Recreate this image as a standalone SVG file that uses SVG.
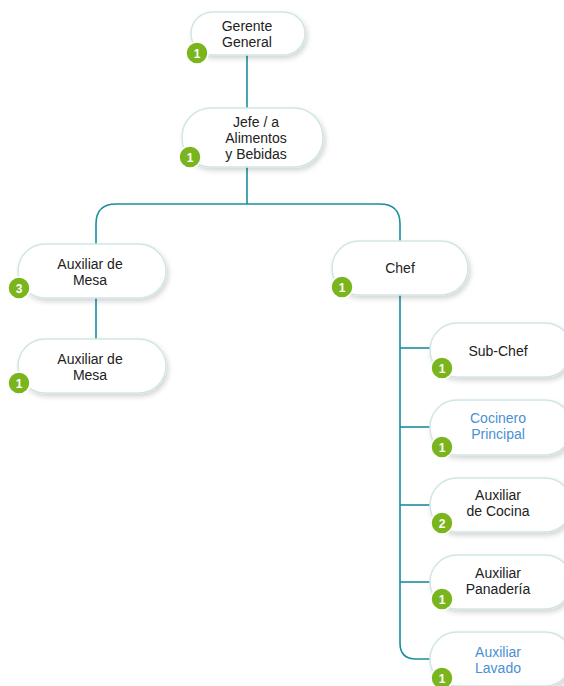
<svg xmlns="http://www.w3.org/2000/svg" width="564" height="686" viewBox="0 0 564 686">
  <defs>
    <filter id="shadow" x="-20%" y="-30%" width="140%" height="170%">
      <feDropShadow dx="2" dy="3" stdDeviation="2.5" flood-color="#000" flood-opacity="0.16"/>
    </filter>
    <style>
      .box { fill: #ffffff; stroke: #cfe7e3; stroke-width: 1.5; filter: url(#shadow); }
      .lbl { font-family: "Liberation Sans", Arial, sans-serif; font-size: 14px; fill: #222; text-anchor: middle; }
      .blue { fill: #4a90d2; }
      .badge { fill: #7ab51d; stroke: #ffffff; stroke-width: 1.5; }
      .num { font-family: "Liberation Sans", Arial, sans-serif; font-size: 12px; font-weight: bold; fill: #ffffff; text-anchor: middle; }
      .wire { fill: none; stroke: #1b8d9e; stroke-width: 1.6; }
    </style>
  </defs>
  <rect width="564" height="686" fill="#ffffff"/>

  <!-- connectors -->
  <g id="connectors" class="wire">
    <path d="M247 55 V108"/>
    <path d="M247 167 V204"/>
    <path d="M116 204 H380 Q400 204 400 224 V241"/>
    <path d="M116 204 Q96 204 96 224 V244"/>
    <path d="M96 298 V339"/>
    <path d="M400 295 V643 Q400 659 416 659 H430"/>
    <path d="M400 348 H430"/>
    <path d="M400 427 H430"/>
    <path d="M400 505 H430"/>
    <path d="M400 582 H430"/>
  </g>

  <g id="gerente">
    <rect class="box" x="191" y="12" width="114" height="43" rx="21.5"/>
    <text class="lbl"><tspan x="247" y="31">Gerente</tspan><tspan x="247" y="47">General</tspan></text>
    <circle class="badge" cx="197" cy="53" r="11"/>
    <text class="num" x="197" y="57.5">1</text>
  </g>

  <g id="jefe">
    <rect class="box" x="182" y="108" width="141" height="59" rx="29"/>
    <text class="lbl"><tspan x="256" y="127">Jefe / a</tspan><tspan x="256" y="143">Alimentos</tspan><tspan x="256" y="159">y Bebidas</tspan></text>
    <circle class="badge" cx="190" cy="157" r="11"/>
    <text class="num" x="190" y="161.5">1</text>
  </g>

  <g id="auxiliar-mesa-1">
    <rect class="box" x="18" y="244" width="148" height="54" rx="27"/>
    <text class="lbl"><tspan x="90" y="269">Auxiliar de</tspan><tspan x="90" y="285">Mesa</tspan></text>
    <circle class="badge" cx="19" cy="288" r="11"/>
    <text class="num" x="19" y="292.5">3</text>
  </g>

  <g id="auxiliar-mesa-2">
    <rect class="box" x="18" y="339" width="148" height="54" rx="27"/>
    <text class="lbl"><tspan x="90" y="364">Auxiliar de</tspan><tspan x="90" y="380">Mesa</tspan></text>
    <circle class="badge" cx="19" cy="383" r="11"/>
    <text class="num" x="19" y="387.5">1</text>
  </g>

  <g id="chef">
    <rect class="box" x="332" y="241" width="136" height="54" rx="27"/>
    <text class="lbl" x="400" y="273">Chef</text>
    <circle class="badge" cx="342" cy="287" r="11"/>
    <text class="num" x="342" y="291.5">1</text>
  </g>

  <g id="sub-chef">
    <rect class="box" x="430" y="323" width="142" height="54" rx="27"/>
    <text class="lbl" x="498" y="356">Sub-Chef</text>
    <circle class="badge" cx="442" cy="368" r="11"/>
    <text class="num" x="442" y="372.5">1</text>
  </g>

  <g id="cocinero-principal">
    <rect class="box" x="430" y="400" width="142" height="55" rx="27"/>
    <text class="lbl blue"><tspan x="498" y="423">Cocinero</tspan><tspan x="498" y="439">Principal</tspan></text>
    <circle class="badge" cx="442" cy="447" r="11"/>
    <text class="num" x="442" y="451.5">1</text>
  </g>

  <g id="auxiliar-cocina">
    <rect class="box" x="430" y="478" width="142" height="54" rx="27"/>
    <text class="lbl"><tspan x="498" y="500">Auxiliar</tspan><tspan x="498" y="516">de Cocina</tspan></text>
    <circle class="badge" cx="442" cy="523" r="11"/>
    <text class="num" x="442" y="527.5">2</text>
  </g>

  <g id="auxiliar-panaderia">
    <rect class="box" x="430" y="555" width="142" height="54" rx="27"/>
    <text class="lbl"><tspan x="498" y="578">Auxiliar</tspan><tspan x="498" y="594">Panadería</tspan></text>
    <circle class="badge" cx="442" cy="599" r="11"/>
    <text class="num" x="442" y="603.5">1</text>
  </g>

  <g id="auxiliar-lavado">
    <rect class="box" x="430" y="632" width="142" height="54" rx="27"/>
    <text class="lbl blue"><tspan x="498" y="657">Auxiliar</tspan><tspan x="498" y="673">Lavado</tspan></text>
    <circle class="badge" cx="442" cy="678" r="11"/>
    <text class="num" x="442" y="682.5">1</text>
  </g>
</svg>
